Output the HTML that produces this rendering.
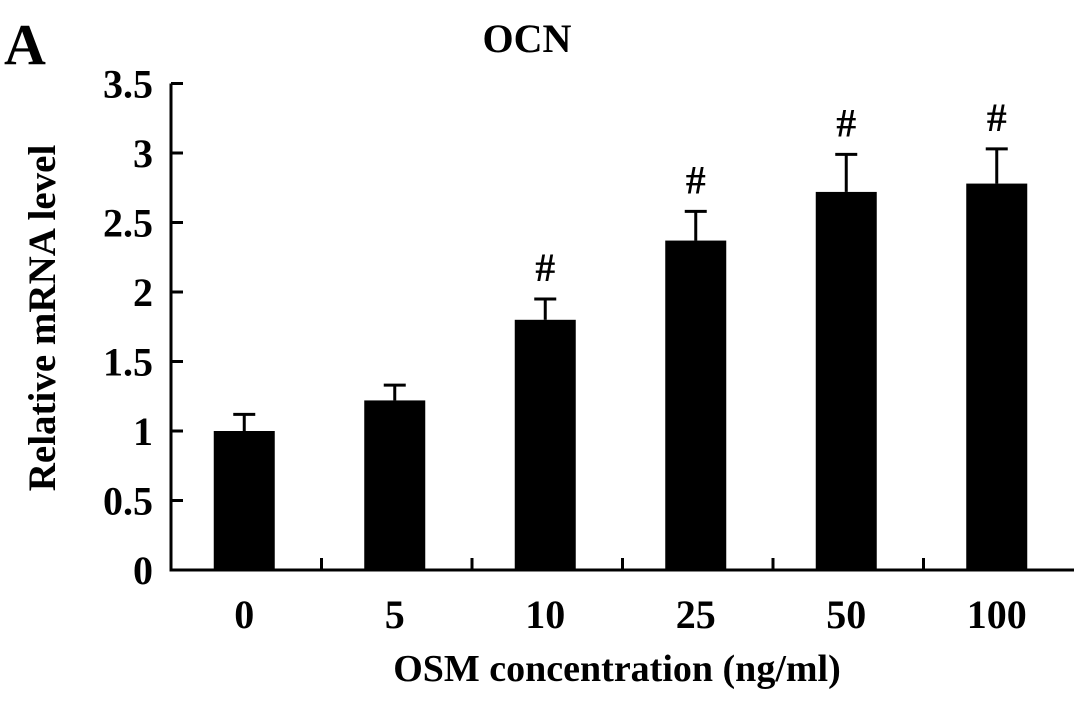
<!DOCTYPE html>
<html><head><meta charset="utf-8"><style>
body{margin:0;background:#fff}
svg text{font-family:"Liberation Serif",serif;font-weight:bold;fill:#000}
</style></head><body>
<svg id="chart" width="1087" height="699" viewBox="0 0 1087 699" xmlns="http://www.w3.org/2000/svg">
<text x="4" y="64" font-size="58">A</text>
<text x="527" y="52" font-size="40" text-anchor="middle">OCN</text>
<text transform="translate(55,318) rotate(-90)" font-size="39" text-anchor="middle">Relative mRNA level</text>
<text x="617" y="681" font-size="38" text-anchor="middle">OSM concentration (ng/ml)</text>
<g id="plot"></g>
</svg>
<script>
const categories=["0","5","10","25","50","100"];
const values=[1.0,1.22,1.8,2.37,2.72,2.78];
const errors=[0.12,0.11,0.15,0.21,0.27,0.25];
const marks=["","","#","#","#","#"];
const yTicks=[0,0.5,1,1.5,2,2.5,3,3.5];
const yTickLabels=["0","0.5","1","1.5","2","2.5","3","3.5"];
const NS="http://www.w3.org/2000/svg";
const g=document.getElementById('plot');
const x0=171,step=150.5,y0=570,pxPer=139,barW=61;
const yS=v=>y0-v*pxPer;
const xC=i=>x0+step*(i+0.5)-2;
function mk(tag,attrs){const e=document.createElementNS(NS,tag);for(const k in attrs)e.setAttribute(k,attrs[k]);g.appendChild(e);return e;}
let e=mk('line',{x1:x0,y1:y0,x2:x0+step*categories.length,y2:y0,stroke:'#000','stroke-width':3});


e=mk('line',{x1:x0,y1:y0+1.5,x2:x0,y2:yS(3.5),stroke:'#000','stroke-width':3});


yTicks.forEach((v,i)=>{
 e=mk('line',{x1:x0,y1:yS(v),x2:x0+12,y2:yS(v),stroke:'#000','stroke-width':3});
 
 
 e=mk('text',{x:x0-18,y:yS(v)+14,'font-size':40,'text-anchor':'end'});
 e.textContent=yTickLabels[i];
 
 
});
for(let i=1;i<categories.length;i++){
 e=mk('line',{x1:x0+step*i,y1:y0,x2:x0+step*i,y2:y0-12,stroke:'#000','stroke-width':3});
 
 
}
categories.forEach((c,i)=>{
 const cx=xC(i),top=yS(values[i]),et=yS(values[i]+errors[i]);
 e=mk('line',{x1:cx,y1:top,x2:cx,y2:et,stroke:'#000','stroke-width':3});
 
 
 e=mk('line',{x1:cx-11,y1:et,x2:cx+11,y2:et,stroke:'#000','stroke-width':3});
 
 
 e=mk('rect',{x:cx-barW/2,y:top,width:barW,height:y0-top,fill:'#000'});
 
 
 e=mk('text',{x:cx,y:628,'font-size':40,'text-anchor':'middle'});
 e.textContent=c;
 
 
 if(marks[i]){
  e=mk('text',{x:cx,y:et-18,'font-size':40,'text-anchor':'middle'});
  e.textContent=marks[i];
  
  
 }
});
</script>
</body></html>
